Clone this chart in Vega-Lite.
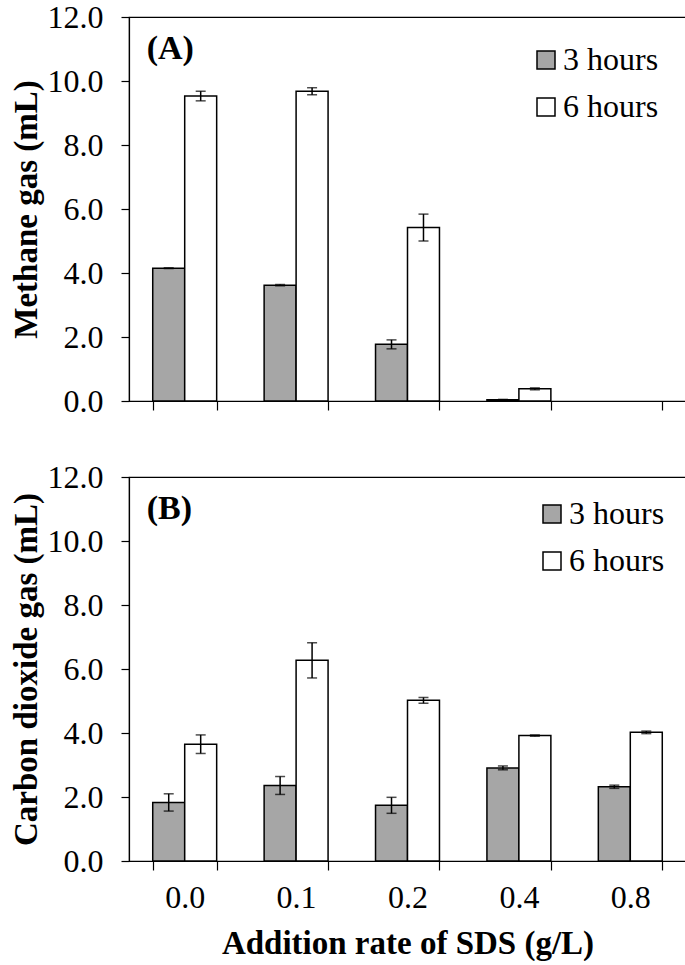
{
  "$schema": "https://vega.github.io/schema/vega-lite/v6.json",
  "padding": {"top": 0, "left": 9, "right": 0, "bottom": 0},
  "spacing": 42,
  "config": {
    "font": "Liberation Serif",
    "view": {"stroke": "black", "strokeWidth": 1.2},
    "axis": {
      "domainColor": "black", "tickColor": "black", "labelColor": "black", "titleColor": "black",
      "domainWidth": 1.2, "tickWidth": 1.2, "tickSize": 9,
      "labelFont": "Liberation Serif", "titleFont": "Liberation Serif",
      "labelFontSize": 32, "titleFontSize": 33, "titleFontWeight": "bold", "grid": false
    },
    "legend": {
      "labelFont": "Liberation Serif", "labelFontSize": 32, "labelColor": "black"
    }
  },
  "resolve": {"scale": {"fill": "independent"}, "legend": {"fill": "independent"}},
  "vconcat": [
    {
      "width": 557, "height": 384,
      "data": {"values": [
        {"rate": "0.0", "hours": "3 hours", "value": 4.15, "lo": 4.14, "hi": 4.16},
        {"rate": "0.0", "hours": "6 hours", "value": 9.53, "lo": 9.38, "hi": 9.68},
        {"rate": "0.1", "hours": "3 hours", "value": 3.62, "lo": 3.60, "hi": 3.64},
        {"rate": "0.1", "hours": "6 hours", "value": 9.68, "lo": 9.57, "hi": 9.79},
        {"rate": "0.2", "hours": "3 hours", "value": 1.77, "lo": 1.63, "hi": 1.91},
        {"rate": "0.2", "hours": "6 hours", "value": 5.42, "lo": 5.00, "hi": 5.84},
        {"rate": "0.4", "hours": "3 hours", "value": 0.04, "lo": 0.03, "hi": 0.05},
        {"rate": "0.4", "hours": "6 hours", "value": 0.38, "lo": 0.35, "hi": 0.41}
      ]},
      "encoding": {
        "x": {"field": "rate", "type": "nominal",
          "scale": {"domain": ["0.0", "0.1", "0.2", "0.4", "0.8"], "paddingInner": 0.426, "paddingOuter": 0.213},
          "axis": {"labels": false, "title": null, "tickBand": "extent"}}
      },
      "layer": [
        {
          "mark": {"type": "bar", "stroke": "black", "strokeWidth": 1.5},
          "encoding": {
            "xOffset": {"field": "hours", "type": "nominal", "scale": {"paddingInner": 0, "paddingOuter": 0}},
            "y": {"field": "value", "type": "quantitative", "scale": {"domain": [0, 12]},
              "title": "Methane gas (mL)",
              "axis": {"values": [0, 2, 4, 6, 8, 10, 12], "format": ".1f", "labelPadding": 18, "titlePadding": 4, "tickSize": 8}},
            "fill": {"field": "hours", "type": "nominal",
              "scale": {"domain": ["3 hours", "6 hours"], "range": ["#a6a6a6", "#ffffff"]},
              "legend": {"orient": "top-right", "title": null, "offset": 20, "padding": 7,
                "symbolType": "square", "symbolSize": 324, "symbolStrokeColor": "black", "symbolStrokeWidth": 1.5,
                "rowPadding": 15, "labelOffset": 1}}
          }
        },
        {
          "mark": {"type": "rule", "color": "black", "strokeWidth": 1.5},
          "encoding": {
            "xOffset": {"field": "hours", "type": "nominal"},
            "y": {"field": "lo", "type": "quantitative", "title": "Methane gas (mL)"},
            "y2": {"field": "hi"}
          }
        },
        {
          "mark": {"type": "tick", "color": "black", "size": 10, "thickness": 1.5},
          "encoding": {
            "xOffset": {"field": "hours", "type": "nominal"},
            "y": {"field": "lo", "type": "quantitative", "title": "Methane gas (mL)"}
          }
        },
        {
          "mark": {"type": "tick", "color": "black", "size": 10, "thickness": 1.5},
          "encoding": {
            "xOffset": {"field": "hours", "type": "nominal"},
            "y": {"field": "hi", "type": "quantitative", "title": "Methane gas (mL)"}
          }
        },
        {
          "data": {"values": [{"label": "(A)"}]},
          "mark": {"type": "text", "align": "left", "baseline": "middle", "dx": -38, "fontSize": 34, "fontWeight": "bold", "font": "Liberation Serif", "color": "black"},
          "encoding": {
            "x": {"datum": "0.0"},
            "y": {"datum": 11.0},
            "text": {"field": "label"}
          }
        }
      ]
    },
    {
      "width": 557, "height": 384,
      "data": {"values": [
        {"rate": "0.0", "hours": "3 hours", "value": 1.83, "lo": 1.56, "hi": 2.10},
        {"rate": "0.0", "hours": "6 hours", "value": 3.65, "lo": 3.36, "hi": 3.94},
        {"rate": "0.1", "hours": "3 hours", "value": 2.36, "lo": 2.08, "hi": 2.64},
        {"rate": "0.1", "hours": "6 hours", "value": 6.27, "lo": 5.72, "hi": 6.82},
        {"rate": "0.2", "hours": "3 hours", "value": 1.74, "lo": 1.49, "hi": 1.99},
        {"rate": "0.2", "hours": "6 hours", "value": 5.02, "lo": 4.93, "hi": 5.11},
        {"rate": "0.4", "hours": "3 hours", "value": 2.91, "lo": 2.85, "hi": 2.97},
        {"rate": "0.4", "hours": "6 hours", "value": 3.92, "lo": 3.90, "hi": 3.94},
        {"rate": "0.8", "hours": "3 hours", "value": 2.32, "lo": 2.27, "hi": 2.37},
        {"rate": "0.8", "hours": "6 hours", "value": 4.02, "lo": 3.98, "hi": 4.06}
      ]},
      "encoding": {
        "x": {"field": "rate", "type": "nominal",
          "scale": {"domain": ["0.0", "0.1", "0.2", "0.4", "0.8"], "paddingInner": 0.426, "paddingOuter": 0.213},
          "title": "Addition rate of SDS (g/L)",
          "axis": {"tickBand": "extent", "labelAngle": 0, "labelPadding": 12, "titlePadding": 14}}
      },
      "layer": [
        {
          "mark": {"type": "bar", "stroke": "black", "strokeWidth": 1.5},
          "encoding": {
            "xOffset": {"field": "hours", "type": "nominal", "scale": {"paddingInner": 0, "paddingOuter": 0}},
            "y": {"field": "value", "type": "quantitative", "scale": {"domain": [0, 12]},
              "title": "Carbon dioxide gas (mL)",
              "axis": {"values": [0, 2, 4, 6, 8, 10, 12], "format": ".1f", "labelPadding": 18, "titlePadding": 4, "tickSize": 8}},
            "fill": {"field": "hours", "type": "nominal",
              "scale": {"domain": ["3 hours", "6 hours"], "range": ["#a6a6a6", "#ffffff"]},
              "legend": {"orient": "top-right", "title": null, "offset": 15, "padding": 6,
                "symbolType": "square", "symbolSize": 324, "symbolStrokeColor": "black", "symbolStrokeWidth": 1.5,
                "rowPadding": 15, "labelOffset": 1}}
          }
        },
        {
          "mark": {"type": "rule", "color": "black", "strokeWidth": 1.5},
          "encoding": {
            "xOffset": {"field": "hours", "type": "nominal"},
            "y": {"field": "lo", "type": "quantitative", "title": "Carbon dioxide gas (mL)"},
            "y2": {"field": "hi"}
          }
        },
        {
          "mark": {"type": "tick", "color": "black", "size": 10, "thickness": 1.5},
          "encoding": {
            "xOffset": {"field": "hours", "type": "nominal"},
            "y": {"field": "lo", "type": "quantitative", "title": "Carbon dioxide gas (mL)"}
          }
        },
        {
          "mark": {"type": "tick", "color": "black", "size": 10, "thickness": 1.5},
          "encoding": {
            "xOffset": {"field": "hours", "type": "nominal"},
            "y": {"field": "hi", "type": "quantitative", "title": "Carbon dioxide gas (mL)"}
          }
        },
        {
          "data": {"values": [{"label": "(B)"}]},
          "mark": {"type": "text", "align": "left", "baseline": "middle", "dx": -38, "fontSize": 34, "fontWeight": "bold", "font": "Liberation Serif", "color": "black"},
          "encoding": {
            "x": {"datum": "0.0"},
            "y": {"datum": 11.0},
            "text": {"field": "label"}
          }
        }
      ]
    }
  ]
}
